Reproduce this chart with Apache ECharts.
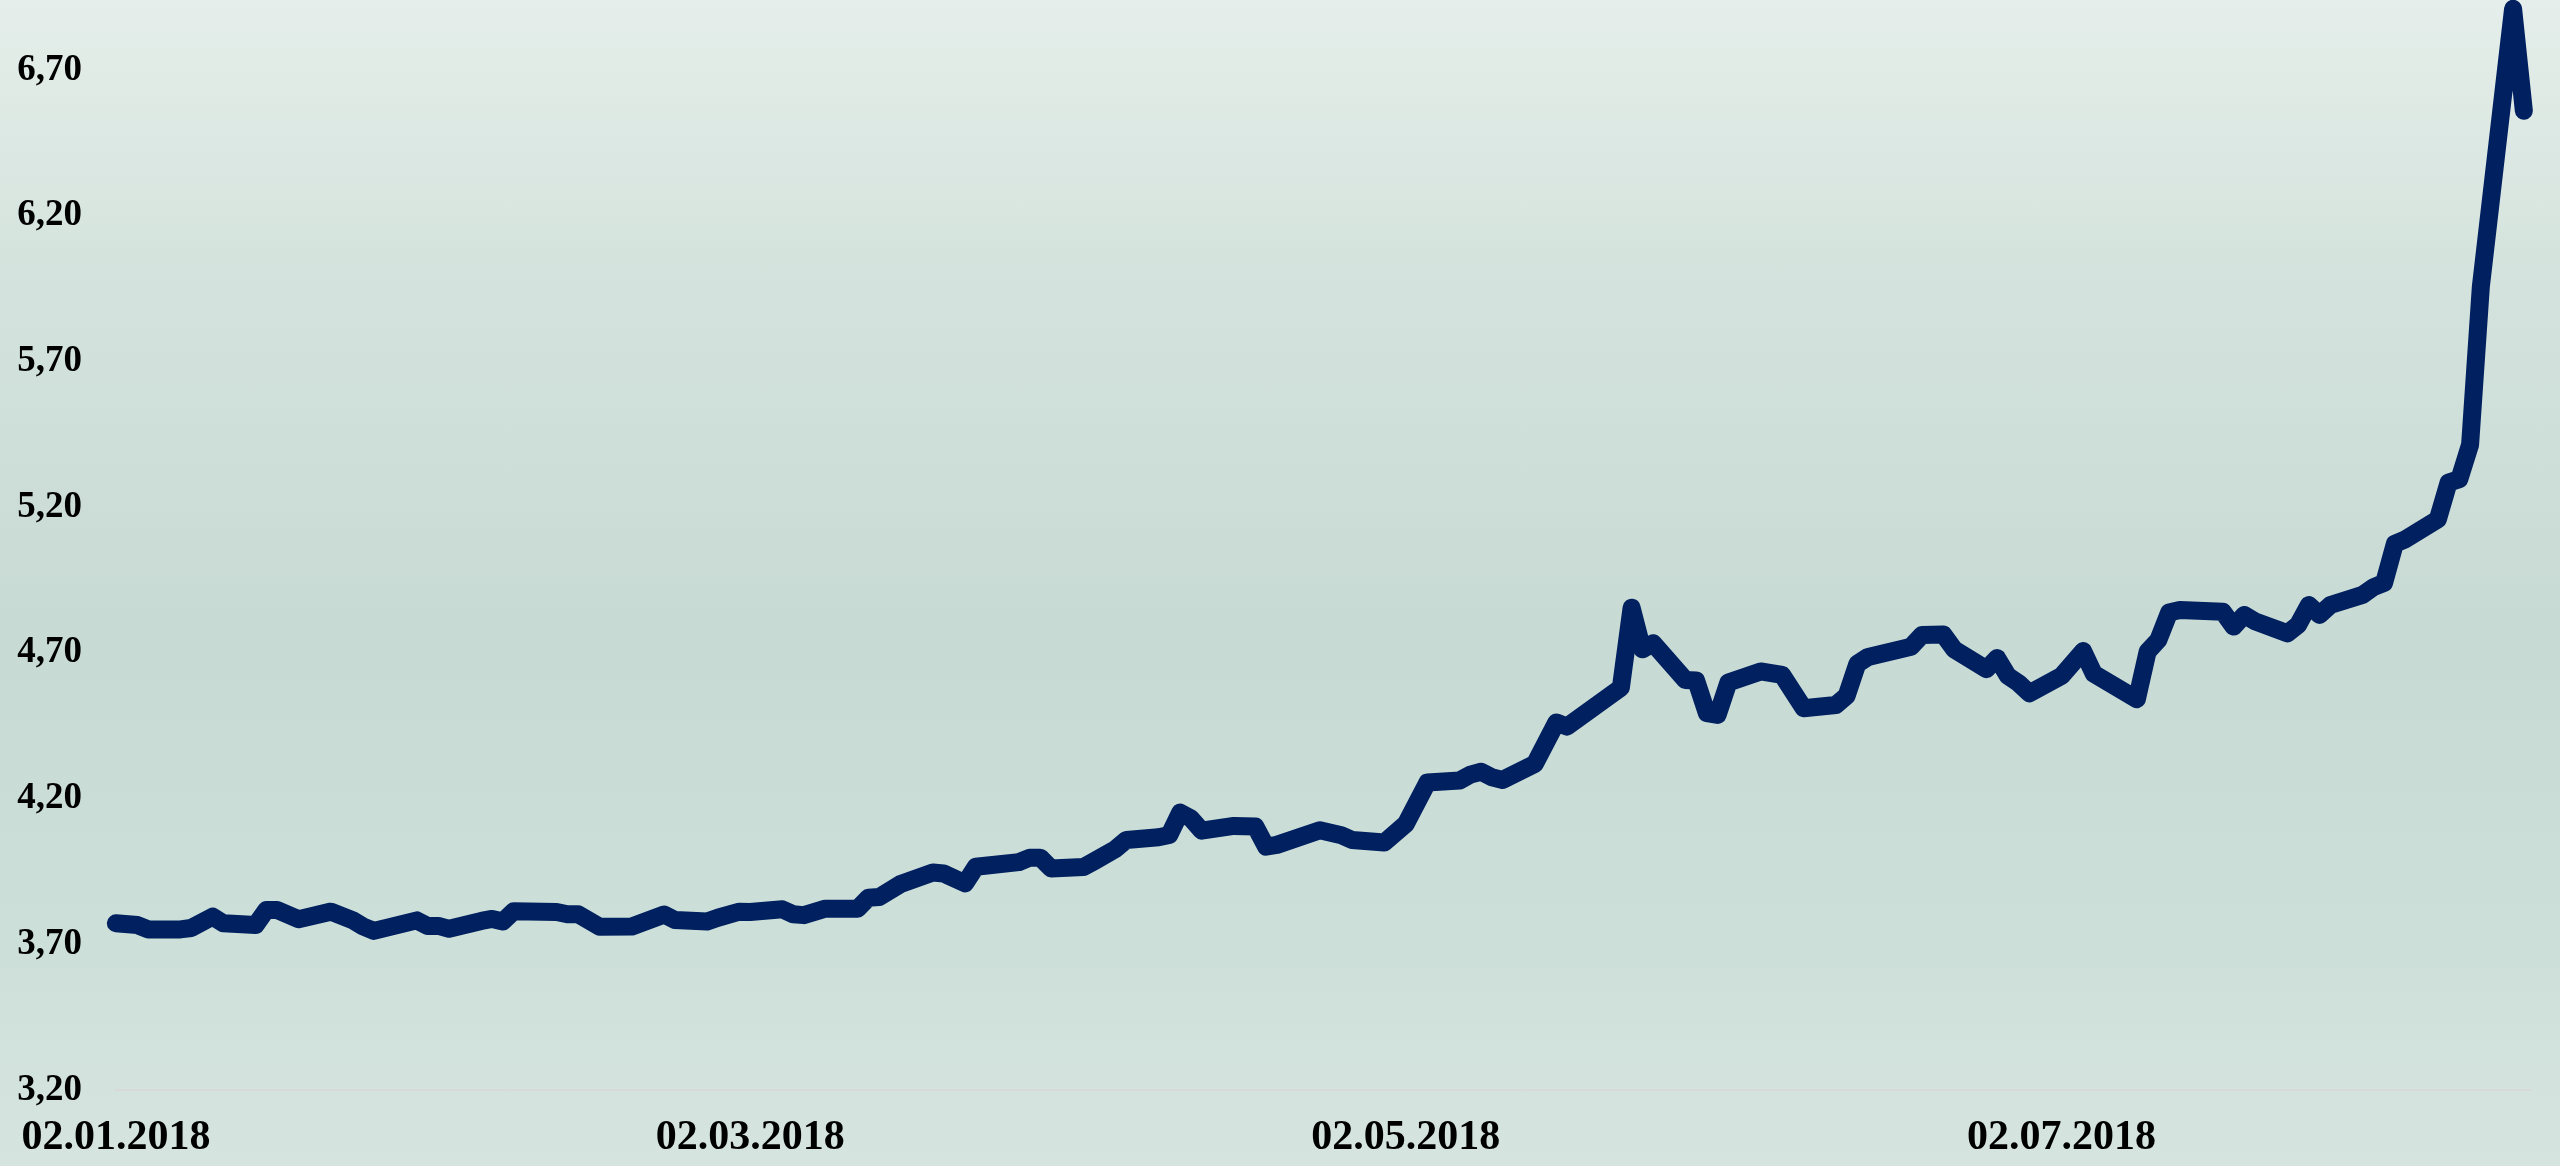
<!DOCTYPE html>
<html lang="ru">
<head>
    <meta charset="UTF-8">
    <title>USD/TRY 2018</title>
    <style>
        html, body { margin: 0; padding: 0; }
        #main {
            width: 2560px; height: 1166px;
            background: linear-gradient(to bottom, #e5eeea 0%, #d3e2dc 25%, #c8dad4 55%, #cddfd9 80%, #d6e4df 100%);
        }
    </style>
</head>
<body>
<div id="main"></div>

<script src="https://cdn.jsdelivr.net/npm/echarts@6/dist/echarts.min.js"></script>

<script type="text/javascript">
    // даты (торговые дни) и значения
    var dates = [
        '2018-01-02', '2018-01-04', '2018-01-05', '2018-01-08', '2018-01-09', '2018-01-11', '2018-01-12',
        '2018-01-15', '2018-01-16', '2018-01-17', '2018-01-19', '2018-01-22', '2018-01-24', '2018-01-25',
        '2018-01-26', '2018-01-30', '2018-01-31', '2018-02-01', '2018-02-02', '2018-02-05', '2018-02-06',
        '2018-02-07', '2018-02-08', '2018-02-12', '2018-02-13', '2018-02-14', '2018-02-16', '2018-02-19',
        '2018-02-22', '2018-02-23', '2018-02-26', '2018-02-27', '2018-03-01', '2018-03-02', '2018-03-05',
        '2018-03-06', '2018-03-07', '2018-03-09', '2018-03-12', '2018-03-13', '2018-03-14', '2018-03-16',
        '2018-03-19', '2018-03-20', '2018-03-22', '2018-03-23', '2018-03-27', '2018-03-28', '2018-03-29',
        '2018-03-30', '2018-04-02', '2018-04-03', '2018-04-05', '2018-04-06', '2018-04-09', '2018-04-10',
        '2018-04-11', '2018-04-12', '2018-04-13', '2018-04-16', '2018-04-18', '2018-04-19', '2018-04-20',
        '2018-04-24', '2018-04-26', '2018-04-27', '2018-04-30', '2018-05-02', '2018-05-04', '2018-05-07',
        '2018-05-08', '2018-05-09', '2018-05-10', '2018-05-11', '2018-05-14', '2018-05-16', '2018-05-17',
        '2018-05-22', '2018-05-23', '2018-05-24', '2018-05-25', '2018-05-28', '2018-05-29', '2018-05-30',
        '2018-05-31', '2018-06-01', '2018-06-04', '2018-06-06', '2018-06-08', '2018-06-11', '2018-06-12',
        '2018-06-13', '2018-06-14', '2018-06-18', '2018-06-19', '2018-06-21', '2018-06-22', '2018-06-25',
        '2018-06-26', '2018-06-27', '2018-06-28', '2018-06-29', '2018-07-02', '2018-07-04', '2018-07-05',
        '2018-07-09', '2018-07-10', '2018-07-11', '2018-07-12', '2018-07-13', '2018-07-17', '2018-07-18',
        '2018-07-19', '2018-07-20', '2018-07-23', '2018-07-24', '2018-07-25', '2018-07-26', '2018-07-27',
        '2018-07-30', '2018-07-31', '2018-08-01', '2018-08-02', '2018-08-03', '2018-08-06', '2018-08-07',
        '2018-08-08', '2018-08-09', '2018-08-10', '2018-08-13', '2018-08-14'
    ];
    var rates = [
        3.772, 3.766, 3.751, 3.751, 3.756, 3.795, 3.772,
        3.766, 3.818, 3.818, 3.786, 3.812, 3.783, 3.761,
        3.746, 3.782, 3.763, 3.763, 3.753, 3.780, 3.787,
        3.778, 3.813, 3.811, 3.803, 3.803, 3.760, 3.761,
        3.802, 3.783, 3.778, 3.791, 3.812, 3.811, 3.820,
        3.803, 3.800, 3.822, 3.822, 3.860, 3.862, 3.907,
        3.946, 3.943, 3.909, 3.966, 3.982, 3.997, 3.997,
        3.960, 3.965, 3.985, 4.027, 4.058, 4.067, 4.075,
        4.152, 4.132, 4.090, 4.106, 4.104, 4.035, 4.041,
        4.091, 4.074, 4.058, 4.049, 4.113, 4.255, 4.262,
        4.282, 4.292, 4.273, 4.264, 4.319, 4.461, 4.447,
        4.580, 4.855, 4.712, 4.733, 4.607, 4.605, 4.493,
        4.487, 4.598, 4.636, 4.624, 4.510, 4.521, 4.552,
        4.662, 4.686, 4.721, 4.761, 4.763, 4.712, 4.644,
        4.682, 4.621, 4.596, 4.561, 4.621, 4.706, 4.628,
        4.541, 4.704, 4.744, 4.838, 4.847, 4.841, 4.790,
        4.830, 4.808, 4.767, 4.796, 4.864, 4.830, 4.864,
        4.899, 4.925, 4.940, 5.074, 5.090, 5.158, 5.284,
        5.296, 5.414, 5.956, 6.910, 6.560
    ];
    // подписи оси X
    var xLabelDates = ['2018-01-02', '2018-03-02', '2018-05-02', '2018-07-02'];

    function toTime(s) {
        var p = s.split('-');
        return new Date(+p[0], +p[1] - 1, +p[2]).getTime();
    }

    function pad(n) {
        return n > 9 ? '' + n : '0' + n;
    }

    var seriesData = [];
    for (var i = 0; i < dates.length; i++) {
        seriesData.push([toTime(dates[i]), rates[i]]);
    }

    var hour = 3600 * 1000;
    var myChart = echarts.init(document.getElementById('main'));

    var option = {
        animation: false,
        grid: {
            left: 115,
            right: 29,
            top: 0,
            bottom: 76
        },
        // ось X - числовая, значения - метки времени
        xAxis: {
            type: 'value',
            min: toTime('2018-01-02') - 2 * hour,
            max: toTime('2018-08-14') + 16 * hour,
            axisLine: { show: true, lineStyle: { color: '#d9d9d9', width: 2 } },
            axisTick: { show: false },
            splitLine: { show: false },
            axisLabel: {
                customValues: xLabelDates.map(toTime),
                margin: 27,
                color: '#000',
                fontFamily: 'Liberation Serif',
                fontWeight: 'bold',
                fontSize: 42,
                formatter: function (v) {
                    var d = new Date(v);
                    return pad(d.getDate()) + '.' + pad(d.getMonth() + 1) + '.' + d.getFullYear();
                }
            }
        },
        yAxis: {
            type: 'value',
            min: 3.2,
            max: 6.94,
            interval: 0.5,
            axisLine: { show: false },
            axisTick: { show: false },
            splitLine: { show: false },
            axisLabel: {
                showMaxLabel: false,
                margin: 33,
                color: '#000',
                fontFamily: 'Liberation Serif',
                fontWeight: 'bold',
                fontSize: 37,
                formatter: function (v) {
                    return v.toFixed(2).replace('.', ',');
                }
            }
        },
        series: [{
            type: 'line',
            data: seriesData,
            symbol: 'none',
            lineStyle: {
                color: '#00205f',
                width: 18,
                cap: 'round',
                join: 'round'
            }
        }]
    };
    myChart.setOption(option);
</script>
</body>
</html>
